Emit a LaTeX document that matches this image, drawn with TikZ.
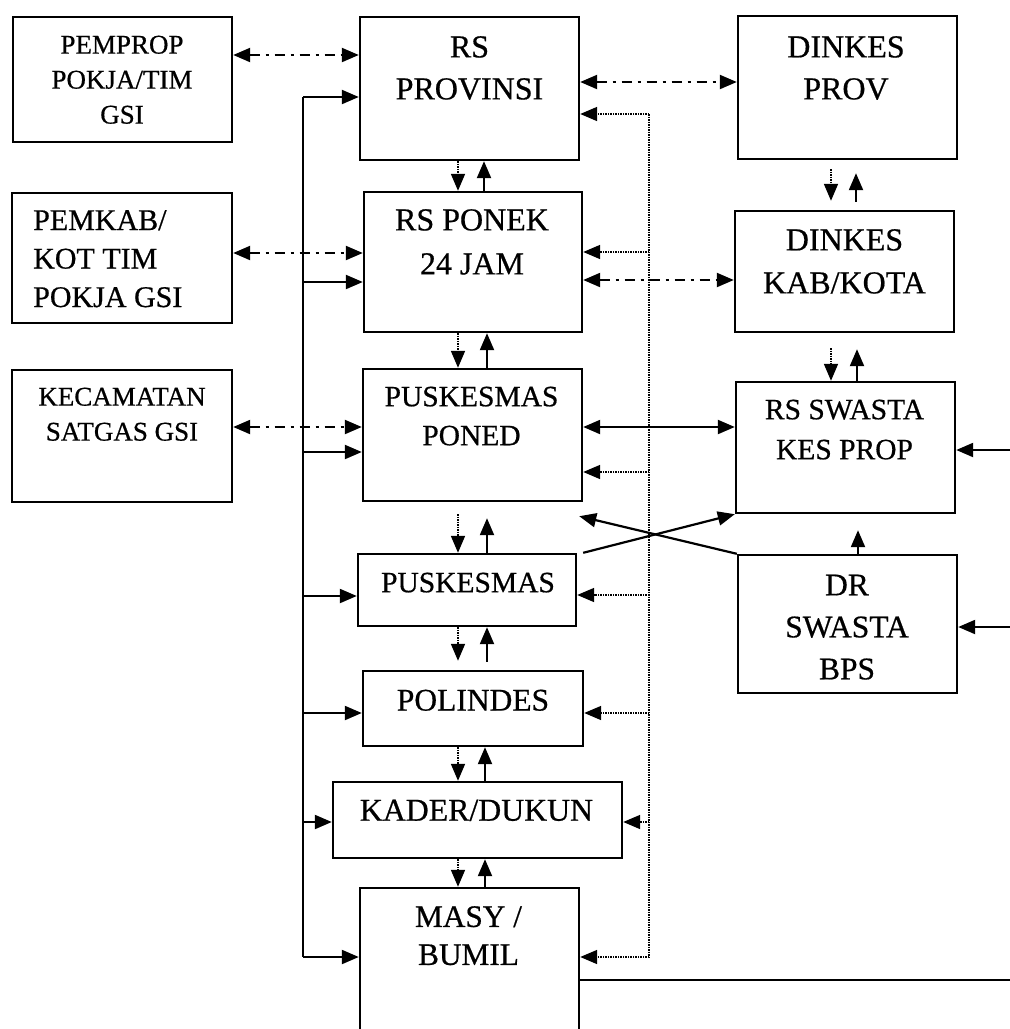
\documentclass[tikz,border=0pt]{standalone}
\usepackage{fontspec}
\setmainfont{Liberation Serif}[UprightFeatures={FakeBold=0.6}]
\usetikzlibrary{arrows.meta}
\newcommand\setfs[2]{\fontsize{#1}{#2}\selectfont}
\begin{document}
\begin{tikzpicture}[x=1pt,y=-1pt,
  >={Triangle[length=17pt,width=14pt]},
  box/.style={draw, line width=2.4pt, inner sep=0pt},
  txt/.style={inner sep=0pt, align=center, anchor=north},
  link/.style={line width=2.2pt},
  dashdot/.style={line width=2.2pt, dash pattern=on 10pt off 6pt on 3pt off 6pt},
  fb/.style={line width=1.7pt, dash pattern=on 1.5pt off 1pt}]
\useasboundingbox (0,0) rectangle (1010,1029);
\fill[white] (0,0) rectangle (1010,1029);
\clip (0,0) rectangle (1010,1029);

% ---- left column: government bodies
\node[box, minimum width=219pt, minimum height=125pt] (pemprop) at (122.5,79.5) {};
\node[box, minimum width=220pt, minimum height=130pt] (pemkab) at (122,258) {};
\node[box, minimum width=220pt, minimum height=132pt] (kecamatan) at (122,436) {};
\node[txt, font=\setfs{27}{35}] (pemprop-t) at (122,35.5) {PEMPROP\\POKJA/TIM\\GSI};
\node[txt, anchor=north west, align=left, font=\setfs{30}{38.5}] (pemkab-t) at (33,210) {PEMKAB/\\KOT TIM\\POKJA GSI};
\node[txt, font=\setfs{27}{35}] (kecamatan-t) at (122,387.5) {KECAMATAN\\SATGAS GSI};

% ---- centre column: referral chain
\node[box, minimum width=219pt, minimum height=143pt] (rsprov) at (469.5,88.5) {};
\node[box, minimum width=218pt, minimum height=140pt] (rsponek) at (473,262) {};
\node[box, minimum width=219pt, minimum height=132pt] (poned) at (472.5,435) {};
\node[box, minimum width=218pt, minimum height=72pt] (puskesmas) at (467,590) {};
\node[box, minimum width=220pt, minimum height=75pt] (polindes) at (473,708.5) {};
\node[box, minimum width=289pt, minimum height=76pt] (kader) at (477.5,820) {};
\node[box, minimum width=219pt, minimum height=172pt] (masy) at (469.5,974) {};
\node[txt, font=\setfs{32}{42}] (rsprov-t) at (469.5,36) {RS\\PROVINSI};
\node[txt, font=\setfs{32}{44}] (rsponek-t) at (472,209) {RS PONEK\\24 JAM};
\node[txt, font=\setfs{29.5}{39}] (poned-t) at (471.5,386.5) {PUSKESMAS\\PONED};
\node[txt, font=\setfs{29.5}{39}] (puskesmas-t) at (468,572.5) {PUSKESMAS};
\node[txt, font=\setfs{31.5}{42}] (polindes-t) at (473,689.5) {POLINDES};
\node[txt, font=\setfs{31.8}{42}] (kader-t) at (476.5,799.5) {KADER/DUKUN};
\node[txt, font=\setfs{31.3}{38}] (masy-t) at (468.5,906) {MASY /\\BUMIL};

% ---- right column: health offices and private providers
\node[box, minimum width=219pt, minimum height=143pt] (dinkesprov) at (847.5,87.5) {};
\node[box, minimum width=219pt, minimum height=121pt] (dinkeskab) at (844.5,271.5) {};
\node[box, minimum width=219pt, minimum height=131pt] (rsswasta) at (845.5,447.5) {};
\node[box, minimum width=219pt, minimum height=138pt] (drswasta) at (847.5,624) {};
\node[txt, font=\setfs{32}{42}] (dinkesprov-t) at (846,36) {DINKES\\PROV};
\node[txt, font=\setfs{32}{43}] (dinkeskab-t) at (844.5,229) {DINKES\\KAB/KOTA};
\node[txt, font=\setfs{29.5}{40}] (rsswasta-t) at (844.5,399.5) {RS SWASTA\\KES PROP};
\node[txt, font=\setfs{31.5}{42}] (drswasta-t) at (847,574.5) {DR\\SWASTA\\BPS};

% ---- coordination links (dash-dot)
\draw[dashdot,<->] (pemprop.east |- 0,55) -- (rsprov.west |- 0,55);
\draw[dashdot,<->] (pemkab.east |- 0,253) -- (rsponek.west |- 0,253);
\draw[dashdot,<->] (kecamatan.east |- 0,427) -- (poned.west |- 0,427);
\draw[dashdot,<->] (rsprov.east |- 0,82) -- (dinkesprov.west |- 0,82);
\draw[dashdot,<->] (rsponek.east |- 0,280) -- (dinkeskab.west |- 0,280);

% ---- left bus feeding every level
\coordinate (bustop) at (303,97);
\coordinate (busbot) at (303,957);
\draw[link] (bustop) -- (busbot);
\draw[link,->] (bustop) -- (rsprov.west |- bustop);
\draw[link,->] (bustop |- 0,282) -- (rsponek.west |- 0,282);
\draw[link,->] (bustop |- 0,452) -- (poned.west |- 0,452);
\draw[link,->] (bustop |- 0,596) -- (puskesmas.west |- 0,596);
\draw[link,->] (bustop |- 0,713) -- (polindes.west |- 0,713);
\draw[link,->] (bustop |- 0,822) -- (kader.west |- 0,822);
\draw[link,->] (busbot) -- (masy.west |- busbot);

% ---- dotted feedback line on the right of the chain
\coordinate (fbtop) at (649,114);
\coordinate (fbbot) at (649,957);
\draw[fb] (fbtop) -- (fbbot);
\draw[fb,->] (fbtop) -- (rsprov.east |- fbtop);
\draw[fb,->] (fbtop |- 0,252) -- (rsponek.east |- 0,252);
\draw[fb,->] (fbtop |- 0,472) -- (poned.east |- 0,472);
\draw[fb,->] (fbtop |- 0,595) -- (puskesmas.east |- 0,595);
\draw[fb,->] (fbtop |- 0,713) -- (polindes.east |- 0,713);
\draw[fb,->] (fbtop |- 0,822) -- (kader.east |- 0,822);
\draw[fb,->] (fbbot) -- (masy.east |- fbbot);

% ---- vertical referral pairs (dotted down, solid up)
\draw[fb,->] (rsprov.south -| 458,0) -- (rsponek.north -| 458,0);
\draw[link,->] (rsponek.north -| 484,0) -- (rsprov.south -| 484,0);
\draw[fb,->] (rsponek.south -| 458,0) -- (poned.north -| 458,0);
\draw[link,->] (poned.north -| 487,0) -- (rsponek.south -| 487,0);
\draw[fb,->,shorten <=12pt] (poned.south -| 458,0) -- (puskesmas.north -| 458,0);
\draw[link,->,shorten >=16pt] (puskesmas.north -| 487,0) -- (poned.south -| 487,0);
\draw[fb,->,shorten >=9pt] (puskesmas.south -| 458,0) -- (polindes.north -| 458,0);
\draw[link,->,shorten <=8pt] (polindes.north -| 487,0) -- (puskesmas.south -| 487,0);
\draw[fb,->] (polindes.south -| 458,0) -- (kader.north -| 458,0);
\draw[link,->] (kader.north -| 485,0) -- (polindes.south -| 485,0);
\draw[fb,->] (kader.south -| 458,0) -- (masy.north -| 458,0);
\draw[link,->] (masy.north -| 485,0) -- (kader.south -| 485,0);

\draw[fb,->,shorten <=9pt,shorten >=9pt] (dinkesprov.south -| 831,0) -- (dinkeskab.north -| 831,0);
\draw[link,->,shorten <=8pt,shorten >=13pt] (dinkeskab.north -| 856,0) -- (dinkesprov.south -| 856,0);
\draw[fb,->,shorten <=15pt] (dinkeskab.south -| 831,0) -- (rsswasta.north -| 831,0);
\draw[link,->,shorten >=16pt] (rsswasta.north -| 857,0) -- (dinkeskab.south -| 857,0);
\draw[link,->,shorten >=16pt] (drswasta.north -| 858,0) -- (rsswasta.south -| 858,0);

% ---- links with private providers
\draw[link,<->] (poned.east |- 0,427) -- (rsswasta.west |- 0,427);
\draw[link,->] ([xshift=6pt]puskesmas.north east) -- (rsswasta.south west);
\draw[link,->] (drswasta.north west) -- ([xshift=-4pt,yshift=-14pt]poned.south east);

% ---- inputs arriving from the right margin
\coordinate (in1) at (1010,450);
\coordinate (in2) at (1010,627);
\coordinate (out1) at (1010,980);
\draw[link,->] (in1) -- (rsswasta.east |- in1);
\draw[link,->] (in2) -- (drswasta.east |- in2);
\draw[link] (masy.east |- out1) -- (out1);
\end{tikzpicture}
\end{document}
